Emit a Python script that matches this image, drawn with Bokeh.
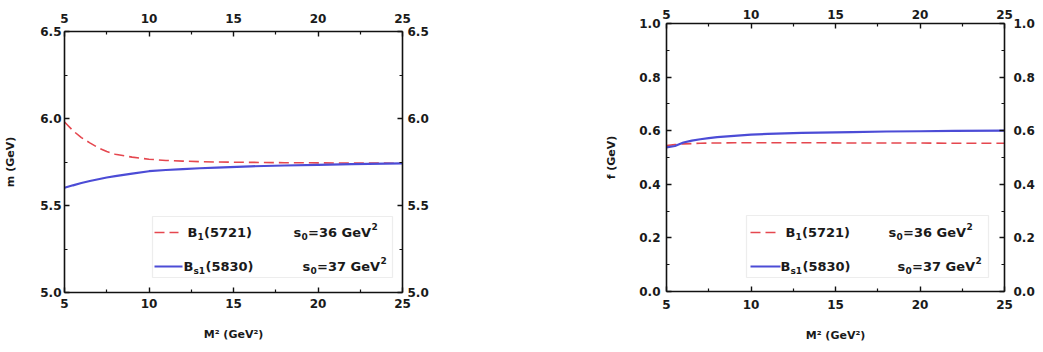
from bokeh.plotting import figure
from bokeh.layouts import row, column
from bokeh.models import LinearAxis, FixedTicker, PrintfTickFormatter, Range1d, BoxAnnotation, Label
from bokeh.embed import file_html
from bokeh.resources import INLINE

# Borel parameter M^2 (GeV^2)
msq = [5, 5.5, 6, 6.5, 7, 7.5, 8, 9, 10, 11, 12, 13, 14, 16, 18, 20, 22, 25]

# masses (GeV)
mass_b1 = [5.980, 5.930, 5.890, 5.860, 5.832, 5.810, 5.795, 5.778, 5.766, 5.759, 5.755,
           5.752, 5.750, 5.748, 5.746, 5.745, 5.744, 5.743]
mass_bs1 = [5.602, 5.616, 5.629, 5.641, 5.651, 5.661, 5.669, 5.683, 5.697, 5.704, 5.709,
            5.714, 5.718, 5.725, 5.730, 5.734, 5.738, 5.742]

# decay constants (GeV)
decay_b1 = [0.545, 0.548, 0.551, 0.552, 0.553, 0.554, 0.554, 0.555, 0.555, 0.555, 0.555,
            0.555, 0.555, 0.554, 0.554, 0.554, 0.553, 0.553]
decay_bs1 = [0.538, 0.543, 0.556, 0.563, 0.568, 0.572, 0.576, 0.581, 0.585, 0.588, 0.590,
             0.592, 0.593, 0.595, 0.597, 0.598, 0.599, 0.600]

x_ticks = [5, 10, 15, 20, 25]
x_minor = [7.5, 12.5, 17.5, 22.5]
mass_ticks = [5.0, 5.5, 6.0, 6.5]
mass_minor = [5.25, 5.75, 6.25]
decay_ticks = [0.0, 0.2, 0.4, 0.6, 0.8, 1.0]
decay_minor = [0.1, 0.3, 0.5, 0.7, 0.9]

names = ["B", "1", "(5721)", "B", "s1", "(5830)"]
thresholds = ["36", "37"]

RED = "#e5474f"
BLUE = "#4c4cd6"
FONT = "DejaVu Sans"


def style_axis(ax, ticks, minor, fmt, standoff):
    ax.ticker = FixedTicker(ticks=ticks, minor_ticks=minor)
    ax.formatter = PrintfTickFormatter(format=fmt)
    ax.major_tick_in = 5
    ax.major_tick_out = 0
    ax.minor_tick_in = 3
    ax.minor_tick_out = 0
    ax.axis_line_color = "#111111"
    ax.axis_line_width = 1.6
    ax.major_tick_line_color = "#111111"
    ax.minor_tick_line_color = "#111111"
    ax.major_tick_line_width = 1.4
    ax.minor_tick_line_width = 1.2
    ax.major_label_text_font = FONT
    ax.major_label_text_font_style = "bold"
    ax.major_label_text_font_size = "12px"
    ax.major_label_text_color = "#1a1a1a"
    ax.major_label_standoff = standoff
    ax.axis_label_text_font = FONT
    ax.axis_label_text_font_style = "bold"
    ax.axis_label_text_font_size = "11px"
    ax.axis_label_text_color = "#1a1a1a"


def make_panel(yr, yticks, yminor, ylabel, b1, bs1, frame_h, borders, standoffs, label_gap, legend):
    left, right, top, bottom = borders
    p = figure(frame_width=338, frame_height=frame_h,
               min_border_left=left, min_border_right=right,
               min_border_top=top, min_border_bottom=bottom,
               x_range=Range1d(5, 25), y_range=Range1d(*yr),
               output_backend="svg", toolbar_location=None,
               background_fill_color="white", border_fill_color="white")
    p.outline_line_color = None
    p.xgrid.visible = False
    p.ygrid.visible = False

    s_left, s_right, s_top, s_bottom = standoffs
    style_axis(p.xaxis[0], x_ticks, x_minor, "%d", s_bottom)
    p.xaxis[0].axis_label = "M² (GeV²)"
    p.xaxis[0].axis_label_standoff = label_gap[1]
    style_axis(p.yaxis[0], yticks, yminor, "%.1f", s_left)
    p.yaxis[0].axis_label = ylabel
    p.yaxis[0].axis_label_standoff = label_gap[0]

    top_ax = LinearAxis()
    style_axis(top_ax, x_ticks, x_minor, "%d", s_top)
    p.add_layout(top_ax, "above")
    right_ax = LinearAxis()
    style_axis(right_ax, yticks, yminor, "%.1f", s_right)
    p.add_layout(right_ax, "right")

    p.line(msq, b1, line_color=RED, line_width=1.6, line_dash="10 5")
    p.line(msq, bs1, line_color=BLUE, line_width=2.2)

    # pixel offsets inside the frame -> data coordinates
    x0, x1 = 5, 25
    y0, y1 = yr

    def dx(px):
        return x0 + (x1 - x0) * px / 338

    def dy(py):
        return y1 - (y1 - y0) * py / frame_h

    bl, br, bt, bb = legend["box"]
    p.add_layout(BoxAnnotation(left=dx(bl), right=dx(br), top=dy(bt), bottom=dy(bb),
                               fill_color="white", fill_alpha=1.0, level="underlay",
                               line_color="#c4c4c4", line_width=1.2))

    def piece(x, y, text, size, shift=0):
        p.add_layout(Label(x=dx(x), y=dy(y - shift), text=text,
                           text_font=FONT, text_font_style="bold",
                           text_font_size=f"{size}px", text_color="#1a1a1a",
                           text_baseline="middle", text_align="left"))

    r1, r2 = legend["rows"]
    lx0, lx1 = legend["key"]
    p.line([dx(lx0), dx(lx1)], [dy(r1), dy(r1)], line_color=RED, line_width=1.6, line_dash="10 5")
    p.line([dx(lx0), dx(lx1 + 4)], [dy(r2), dy(r2)], line_color=BLUE, line_width=2.2)

    # B1(5721)
    bx = legend["name_x"][0]
    piece(bx, r1, names[0], 13)
    piece(bx + 10, r1, names[1], 9, shift=-4)
    piece(bx + 16.5, r1, names[2], 13)
    # Bs1(5830)
    bx = legend["name_x"][1]
    piece(bx, r2, names[3], 13)
    piece(bx + 10, r2, names[4], 9, shift=-4)
    piece(bx + 22, r2, names[5], 13)

    # s0 thresholds
    for ry, sx, s0 in zip((r1, r2), legend["s0_x"], thresholds):
        piece(sx, ry, "s", 13)
        piece(sx + 8, ry, "0", 9, shift=-4)
        piece(sx + 14.5, ry, f"={s0} GeV", 13)
        piece(sx + 78, ry, "2", 9, shift=6)
    return p


left_panel = make_panel((5.0, 6.5), mass_ticks, mass_minor, "m (GeV)",
                        mass_b1, mass_bs1, 261,
                        (64, 118, 31, 60), (3, 5, 9, 6), (20, 17),
                        {"box": (88, 328, 185, 246), "rows": (201, 235), "key": (90, 114),
                         "name_x": (123, 119), "s0_x": (229, 238)})

right_panel = make_panel((0.0, 1.0), decay_ticks, decay_minor, "f (GeV)",
                         decay_b1, decay_bs1, 268,
                         (146, 39, 23, 61), (6, 9, 5, 8), (18, 17),
                         {"box": (80, 322, 192, 254), "rows": (209, 243), "key": (84, 110),
                          "name_x": (119, 114), "s0_x": (222, 231)})

layout = row(column(left_panel), column(right_panel))
open("out.html", "w").write(file_html(layout, INLINE))
